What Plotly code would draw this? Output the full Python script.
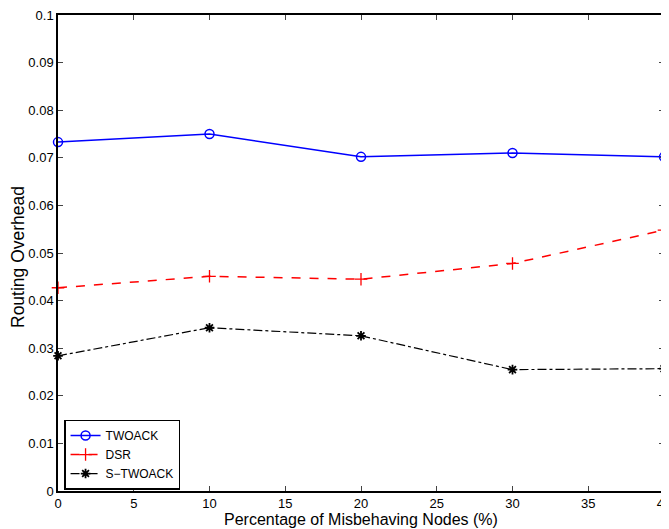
import plotly.graph_objects as go

x_vals = [0, 10, 20, 30, 40]
twoack = [0.0733, 0.0750, 0.0702, 0.0710, 0.0702]
dsr = [0.0427, 0.0451, 0.0445, 0.0478, 0.0548]
stwoack = [0.0284, 0.0343, 0.0326, 0.0255, 0.0257]

x_ticks = [0, 5, 10, 15, 20, 25, 30, 35, 40]
y_ticks = [0, 0.01, 0.02, 0.03, 0.04, 0.05, 0.06, 0.07, 0.08, 0.09, 0.1]
y_tick_text = ["0", "0.01", "0.02", "0.03", "0.04", "0.05", "0.06", "0.07", "0.08", "0.09", "0.1"]

x_title = "Percentage of Misbehaving Nodes (%)"
y_title = "Routing Overhead"

font_family = "Liberation Sans, Arial, Helvetica, sans-serif"

fig = go.Figure()
fig.add_trace(go.Scatter(
    x=x_vals, y=twoack, name="TWOACK", mode="lines+markers",
    line=dict(color="#0000ff", width=1.5),
    marker=dict(symbol="circle-open", size=9, color="#0000ff", line=dict(width=1.5)),
    cliponaxis=False))
fig.add_trace(go.Scatter(
    x=x_vals, y=dsr, name="DSR", mode="lines+markers",
    line=dict(color="#ff0000", width=1.5, dash="dash"),
    marker=dict(symbol="cross-thin-open", size=9, color="#ff0000", line=dict(width=1.3, color="#ff0000")),
    cliponaxis=False))
fig.add_trace(go.Scatter(
    x=x_vals, y=stwoack, name="S\u2212TWOACK", mode="lines+markers",
    line=dict(color="#000000", width=1.2, dash="dashdot"),
    marker=dict(symbol="asterisk-open", size=8, color="#000000", line=dict(width=1.8, color="#000000")),
    cliponaxis=False))

fig.update_layout(
    width=661, height=521,
    margin=dict(l=50, r=5, t=7, b=38),
    paper_bgcolor="white", plot_bgcolor="white",
    font=dict(family=font_family, size=13, color="black"),
    showlegend=True,
    legend=dict(x=0.01, y=0.003, xanchor="left", yanchor="bottom",
                bgcolor="white", bordercolor="black", borderwidth=1.5,
                font=dict(size=12), tracegroupgap=0, itemwidth=30),
    xaxis=dict(range=[0, 40], tickvals=x_ticks, ticks="inside", ticklen=5,
               showline=True, linecolor="black", linewidth=1.5, mirror="ticks",
               showgrid=False, zeroline=False, tickfont=dict(size=13),
               ticklabeloverflow="allow", automargin=False),
    yaxis=dict(range=[0, 0.1], tickvals=y_ticks, ticktext=y_tick_text, ticks="inside", ticklen=5,
               showline=True, linecolor="black", linewidth=1.5, mirror="ticks",
               showgrid=False, zeroline=False, tickfont=dict(size=13),
               ticklabeloverflow="allow", automargin=False),
    annotations=[
        dict(text=x_title, xref="paper", yref="paper", x=0.5, y=0, xanchor="center", yanchor="middle",
             yshift=-28, showarrow=False, font=dict(size=16)),
        dict(text=y_title, xref="paper", yref="paper", x=0, y=0.5, xanchor="center", yanchor="middle",
             xshift=-40, yshift=-4, textangle=-90, showarrow=False, font=dict(size=17.5)),
    ],
)

fig.write_html("out.html")
